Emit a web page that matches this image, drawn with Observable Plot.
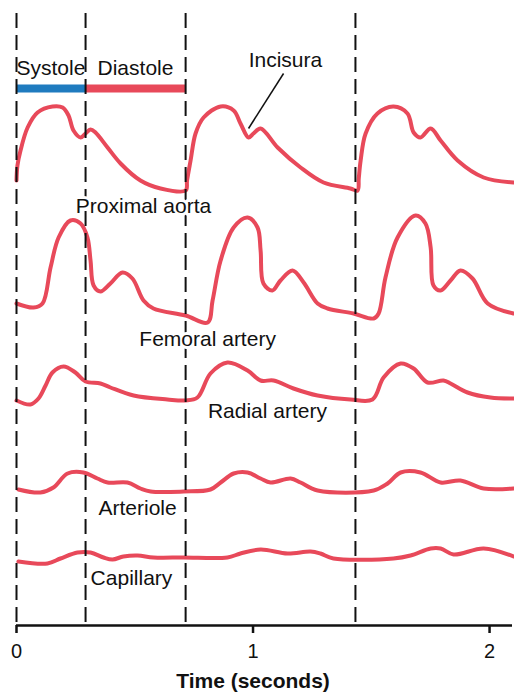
<!DOCTYPE html>
<html>
<head>
<meta charset="utf-8">
<script src="https://cdn.jsdelivr.net/npm/d3@7"></script>
<script src="https://cdn.jsdelivr.net/npm/@observablehq/plot@0.6"></script>
<style>
  html, body { margin: 0; padding: 0; background: #fff; }
  #chart svg { display: block; }
</style>
</head>
<body>
<div id="chart"></div>
<script>
// ---- data (time in seconds, level = height above the time axis) ----
const xTicks = [0, 1, 2];
const xLabel = "Time (seconds)";
const cycleMarks = [0, 0.292, 0.715, 1.433];

const phaseNames = ["Systole", "Diastole"];
const phaseStart = [0, 0.292];
const phaseEnd = [0.292, 0.715];
const phaseColors = ["#1f7bbf", "#e8495a"];
const phaseLevel = 537;

const proximalAorta = [
  [0, 445], [0.004, 460], [0.017, 475], [0.047, 498], [0.089, 513], [0.152, 519], [0.195, 518],
  [0.220, 510], [0.241, 495], [0.271, 488], [0.292, 492], [0.313, 496], [0.334, 493],
  [0.385, 478], [0.440, 462], [0.524, 445], [0.609, 437], [0.715, 435],
  [0.721, 445], [0.736, 465], [0.757, 492], [0.791, 508], [0.863, 519], [0.918, 515],
  [0.947, 502], [0.981, 488], [1.002, 492], [1.032, 497], [1.104, 478], [1.201, 458],
  [1.298, 443], [1.412, 437], [1.442, 435],
  [1.447, 447], [1.455, 465], [1.476, 492], [1.526, 512], [1.594, 519], [1.653, 512],
  [1.679, 493], [1.708, 488], [1.751, 497], [1.793, 485], [1.865, 465], [1.975, 448], [2.101, 443]
];
const femoralArtery = [
  [0, 322], [0.072, 318], [0.110, 322], [0.144, 358], [0.178, 388], [0.228, 405], [0.271, 402],
  [0.300, 388], [0.313, 365], [0.326, 340], [0.355, 334], [0.397, 342], [0.448, 353],
  [0.490, 347], [0.537, 325], [0.579, 317], [0.715, 310], [0.808, 303], [0.829, 325],
  [0.863, 365], [0.918, 398], [0.977, 408], [1.019, 398], [1.032, 375], [1.044, 342],
  [1.082, 335], [1.116, 345], [1.167, 355], [1.214, 343], [1.273, 322], [1.315, 317],
  [1.425, 312], [1.510, 307], [1.531, 312], [1.560, 348], [1.611, 388], [1.687, 410],
  [1.729, 402], [1.751, 378], [1.763, 340], [1.793, 335], [1.835, 345], [1.877, 355],
  [1.928, 347], [1.992, 322], [2.101, 312]
];
const radialArtery = [
  [0, 225], [0.059, 221], [0.093, 227], [0.123, 240], [0.152, 253], [0.199, 259], [0.249, 253],
  [0.292, 244], [0.355, 242], [0.397, 238], [0.495, 230], [0.638, 226], [0.715, 225],
  [0.765, 228], [0.820, 252], [0.892, 263], [0.977, 255], [1.032, 245], [1.087, 245],
  [1.171, 237], [1.273, 230], [1.412, 226], [1.505, 226], [1.552, 248], [1.624, 262],
  [1.679, 257], [1.738, 243], [1.805, 245], [1.835, 242], [1.907, 233], [2.004, 228], [2.101, 227]
];
const arteriole = [
  [0.008, 136], [0.101, 133], [0.156, 138], [0.216, 152], [0.283, 153], [0.342, 147],
  [0.385, 143], [0.469, 143], [0.524, 137], [0.567, 134], [0.706, 134], [0.820, 136],
  [0.863, 143], [0.918, 152], [0.977, 153], [1.032, 147], [1.074, 143], [1.159, 147],
  [1.201, 143], [1.273, 135], [1.510, 135], [1.569, 142], [1.624, 153], [1.708, 153],
  [1.793, 143], [1.877, 145], [1.975, 137], [2.101, 137]
];
const capillary = [
  [0.008, 64], [0.131, 62], [0.186, 67], [0.258, 73], [0.313, 73], [0.368, 68], [0.406, 66],
  [0.452, 69], [0.512, 70], [0.579, 68], [0.706, 68], [0.892, 68], [0.947, 72], [1.032, 76],
  [1.146, 72], [1.243, 74], [1.285, 72], [1.340, 67], [1.594, 67], [1.666, 70], [1.751, 77],
  [1.793, 77], [1.848, 71], [1.975, 77], [2.101, 69]
];

const traceNames = ["Proximal aorta", "Femoral artery", "Radial artery", "Arteriole", "Capillary"];
const traceLabelX = [0.537, 0.808, 1.061, 0.512, 0.486];
const traceLabelY = [419, 286, 214, 117, 47];

const incisuraLabel = {x: 1.137, y: 565, text: "Incisura"};
const incisuraLeader = {x1: 1.129, y1: 552, x2: 0.981, y2: 497};

// ---- tables built from the arrays ----
const traces = [proximalAorta, femoralArtery, radialArtery, arteriole, capillary];
const traceRows = traces.flatMap((arr, i) => arr.map(([t, v]) => ({t, v, name: traceNames[i]})));
const traceLabels = traceNames.map((n, i) => ({x: traceLabelX[i], y: traceLabelY[i], text: n}));
const phases = phaseNames.map((n, i) => ({name: n, x1: phaseStart[i], x2: phaseEnd[i], color: phaseColors[i]}));

const RED = "#e8495a";
const INK = "#111";
const FS = 21;

const chart = Plot.plot({
  width: 514,
  height: 696,
  marginTop: 0,
  marginBottom: 71,
  marginLeft: 16,
  marginRight: 2,
  style: {fontFamily: "'Liberation Sans', Arial, Helvetica, sans-serif", fontSize: "20px", color: INK, background: "#fff"},
  x: {domain: [0, 2.097]},
  y: {domain: [0, 625], axis: null},
  color: {type: "identity"},
  marks: [
    Plot.line(traceRows, {x: "t", y: "v", z: "name", stroke: RED, strokeWidth: 4, curve: "catmull-rom",
      strokeLinejoin: "round", strokeLinecap: "round"}),
    Plot.ruleY(phases, {y: () => phaseLevel, x1: "x1", x2: "x2", stroke: "color", strokeWidth: 8}),
    Plot.ruleX(cycleMarks, {x: d => d, y1: 612, y2: 0, stroke: INK, strokeWidth: 2, strokeDasharray: "15,7"}),
    Plot.ruleY([0], {stroke: INK, strokeWidth: 2.5}),
    Plot.axisX({ticks: xTicks, tickFormat: d3.format("d"), tickSize: 8, tickPadding: 10, label: null,
      fontSize: 20, stroke: INK, strokeWidth: 2.5, fill: INK}),
    Plot.text([{x: 1, text: xLabel}], {x: "x", text: "text", frameAnchor: "bottom", dy: 62,
      fontWeight: "bold", fontSize: FS, fill: INK}),
    Plot.text([phases[0]], {x: "x1", y: () => phaseLevel + 20, text: "name", textAnchor: "start", fontSize: FS, fill: INK}),
    Plot.text([phases[1]], {x: () => 0.503, y: () => phaseLevel + 20, text: "name", fontSize: FS, fill: INK,
      stroke: "white", strokeWidth: 6}),
    Plot.link([incisuraLeader], {x1: "x1", y1: "y1", x2: "x2", y2: "y2", stroke: INK, strokeWidth: 1.5}),
    Plot.text([incisuraLabel], {x: "x", y: "y", text: "text", fontSize: FS, fill: INK}),
    Plot.text(traceLabels, {x: "x", y: "y", text: "text", fontSize: FS, fill: INK, stroke: "white", strokeWidth: 6})
  ]
});
document.getElementById("chart").appendChild(chart);
</script>
</body>
</html>
